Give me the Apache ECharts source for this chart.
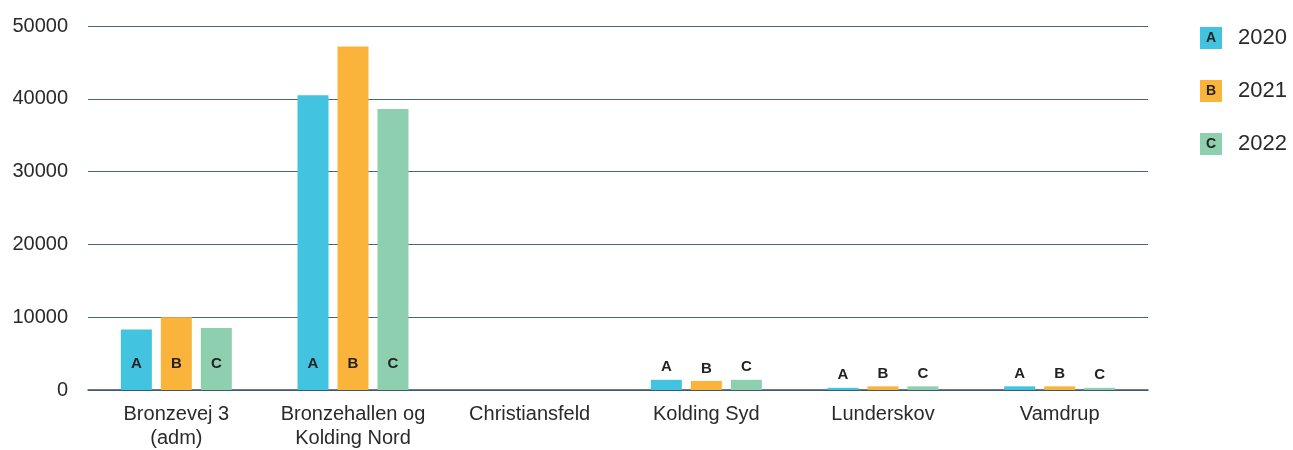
<!DOCTYPE html>
<html>
<head>
<meta charset="utf-8">
<script src="https://cdn.jsdelivr.net/npm/echarts@6/dist/echarts.min.js"></script>
<style>
html,body{margin:0;padding:0;background:#fff;}
#chart{width:1293px;height:450px;}
</style>
</head>
<body>
<div id="chart"></div>
<script>
var categories = ['Bronzevej 3\n(adm)', 'Bronzehallen og\nKolding Nord', 'Christiansfeld', 'Kolding Syd', 'Lunderskov', 'Vamdrup'];
var years = ['2020', '2021', '2022'];
var letters = ['A', 'B', 'C'];
var values2020 = [8300, 40500, 0, 1400, 300, 500];
var values2021 = [10000, 47200, 0, 1250, 500, 500];
var values2022 = [8500, 38600, 0, 1400, 500, 300];
var colors = ['#42c3df', '#fbb43b', '#8ecfaf'];

var font = '"Liberation Sans", Arial, sans-serif';

function makeData(vals, letter){
	var out = [];
	for(var i=0;i<vals.length;i++){
		if(vals[i] <= 0){ out.push({value:vals[i], label:{show:false}}); continue; }
		var big = vals[i] > 3000;
		out.push({
			value: vals[i],
			label: {
				show: true,
				formatter: letter,
				position: big ? 'insideBottom' : 'top',
				distance: big ? 19 : 5
			}
		});
	}
	return out;
}

var allVals = [values2020, values2021, values2022];
var series = [];
for(var s=0;s<3;s++){
	series.push({
		name: years[s],
		type: 'bar',
		barWidth: 31,
		barGap: '29%',
		itemStyle: {color: colors[s]},
		label: {color:'#222', fontWeight:'bold', fontSize:15, fontFamily:font},
		data: makeData(allVals[s], letters[s])
	});
}

var rich = {t:{fontSize:22, color:'#2a2a2a', fontFamily:font, padding:[0,0,0,16]}};
for(var k=0;k<3;k++){
	rich['b'+k] = {
		backgroundColor: colors[k], width:22, height:22, lineHeight:22, align:'center',
		fontSize:14, fontWeight:'bold', color:'#222', fontFamily:font
	};
}

var option = {
	animation: false,
	grid: {left:88, right:145, top:26, bottom:60},
	legend: {
		orient: 'vertical',
		left: 1190,
		top: 22,
		itemWidth: 0,
		itemHeight: 0,
		itemGap: 31,
		icon: 'rect',
		data: years,
		formatter: function(name){
			var i = years.indexOf(name);
			return '{b'+i+'|'+letters[i]+'}{t|'+name+'}';
		},
		textStyle: {rich: rich}
	},
	xAxis: {
		type: 'category',
		data: categories,
		axisLine: {lineStyle:{color:'#3d5566', width:1.5}},
		axisTick: {show:false},
		axisLabel: {color:'#2a2a2a', fontSize:20, lineHeight:24, fontFamily:font, margin:12, interval:0}
	},
	yAxis: {
		type: 'value',
		min: 0,
		max: 50000,
		interval: 10000,
		axisLine: {show:false},
		axisTick: {show:false},
		axisLabel: {color:'#2a2a2a', fontSize:20, fontFamily:font, margin:20, formatter: function(v){ return String(v); }},
		splitLine: {lineStyle:{color:'#4a6678', width:1}}
	},
	series: series
};

var chart = echarts.init(document.getElementById('chart'));
chart.setOption(option);
</script>
</body>
</html>
